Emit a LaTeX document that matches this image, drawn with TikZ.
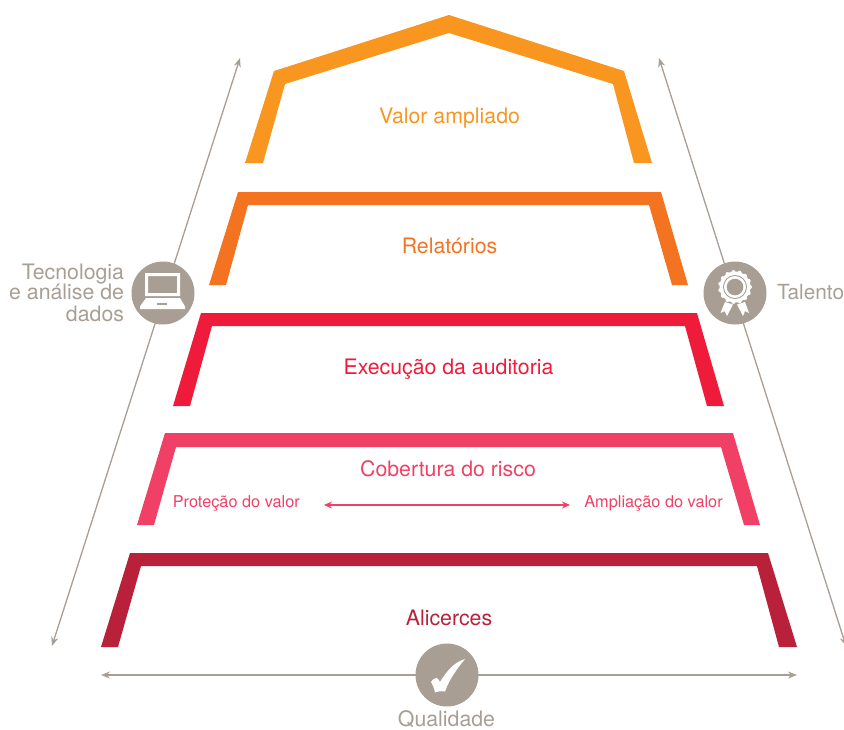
\documentclass[tikz,border=0pt]{standalone}
\usepackage{fontspec}
\setmainfont{TeX Gyre Heros}
\usetikzlibrary{arrows.meta}
\definecolor{cgrey}{HTML}{A89E94}
\definecolor{cA}{HTML}{F9961F}
\definecolor{cB}{HTML}{F37321}
\definecolor{cC}{HTML}{EE1B3A}
\definecolor{cD}{HTML}{F14066}
\definecolor{cE}{HTML}{B9213A}
\tikzset{
  every node/.style={inner sep=0pt,outer sep=0pt},
  lab/.style={font=\fontsize{21.3}{24}\selectfont,anchor=base},
  sublab/.style={font=\fontsize{16.3}{18}\selectfont,anchor=base,text=cD},
  side/.style={font=\fontsize{21.3}{25}\selectfont,text=cgrey},
  axis/.style={draw=cgrey,line width=1.3pt,{Stealth[length=9pt,width=7pt]}-{Stealth[length=9pt,width=7pt]}},
  badge/.style={circle,fill=cgrey,minimum size=63pt},
}
\begin{document}
\begin{tikzpicture}[x=1pt,y=-1pt]
\useasboundingbox (0,0) rectangle (844,729);
% axes end points
\coordinate (ltop) at (240,58);
\coordinate (lbot) at (52,646);
\coordinate (rtop) at (659,58);
\coordinate (rbot) at (846,646);
\coordinate (bl) at (101,675);
\coordinate (br) at (797,675);
\draw[axis] (ltop) -- (lbot);
\draw[axis] (rtop) -- (rbot);
\draw[axis] (bl) -- (br);
% tiers
\fill[cA] (245,163) -- (274,71) -- (449,15) -- (624,71) -- (652,163) -- (634,163) -- (613,84) -- (449,33) -- (285,84) -- (263,163) -- cycle;
\fill[cB] (209,285) -- (238,192) -- (661,192) -- (688,285) -- (672,285) -- (649,205) -- (248,205) -- (226,285) -- cycle;
\fill[cC] (173,406) -- (201,313) -- (697,313) -- (724,406) -- (707,406) -- (685,326) -- (212,326) -- (190,406) -- cycle;
\fill[cD] (137,525) -- (165,433) -- (733,433) -- (760,525) -- (744,525) -- (721,447) -- (176,447) -- (154,525) -- cycle;
\fill[cE] (101,647) -- (130,553) -- (768,553) -- (797,647) -- (779,647) -- (757,566) -- (141,566) -- (118,647) -- cycle;
% labels
\node[lab,text=cA] (t1) at (449.5,123) {Valor ampliado};
\node[lab,text=cB] (t2) at (449.5,253) {Relatórios};
\node[lab,text=cC] (t3) at (448.5,374) {Execução da auditoria};
\node[lab,text=cD] (t4) at (448,476) {Cobertura do risco};
\node[lab,text=cE] (t5) at (449,625) {Alicerces};
\node[sublab] (p) at (236.3,507) {Proteção do valor};
\node[sublab] (a) at (653.5,507) {Ampliação do valor};
\coordinate (ma) at (324,505);
\coordinate (mb) at (570,505);
\draw[draw=cD,line width=1.2pt,{Stealth[length=8pt,width=7pt]}-{Stealth[length=8pt,width=7pt]}] (ma) -- (mb);
% badges
\node[badge] (b1) at (163,293) {};
\node[badge] (b2) at (735,293) {};
\node[badge] (b3) at (447,675) {};
% laptop
\fill[white,even odd rule] (145,273) rectangle (180,296) (148,276) rectangle (177,293);
\fill[white] (146,298) -- (180,298) -- (185,306.5) -- (185,309) -- (140,309) -- (140,306.5) -- cycle;
\fill[cgrey] (157,303) rectangle (167,304.5);
% rosette
\fill[white] (735,287) circle (15.5);
\foreach \a in {0,24,...,336}{\fill[white] (735,287) ++(\a:15) circle (2);}
\fill[cgrey] (735,287) circle (12);
\fill[white] (735,287) circle (11);
\fill[cgrey] (735,287) circle (8.3);
\fill[white] (725,302) -- (733,304.5) -- (727,316) -- (724.5,311) -- (720.5,313) -- cycle;
\fill[white] (737,304.5) -- (745,302) -- (749,313) -- (745,311) -- (743,316) -- cycle;
% check
\fill[white] (431,682) .. controls (433,679) and (435,678) .. (437,678) .. controls (438,679) and (439,680) .. (440,682) .. controls (446,672) and (454,662) .. (465,659) .. controls (456,670) and (449,680) .. (445,691.5) .. controls (441,691) and (438,691) .. (435,692.5) .. controls (434,688) and (433,685) .. (431,682) -- cycle;
% side text
\node[side,anchor=base east] (s1) at (124,279) {Tecnologia};
\node[side,anchor=base east] (s1b) at (124,299.5) {e análise de};
\node[side,anchor=base east] (s1c) at (124,321) {dados};
\node[side,anchor=base west,font=\fontsize{20.8}{25}\selectfont] (s2) at (777,299) {Talento};
\node[side,anchor=base] (s3) at (446.5,726) {Qualidade};
\end{tikzpicture}
\end{document}
